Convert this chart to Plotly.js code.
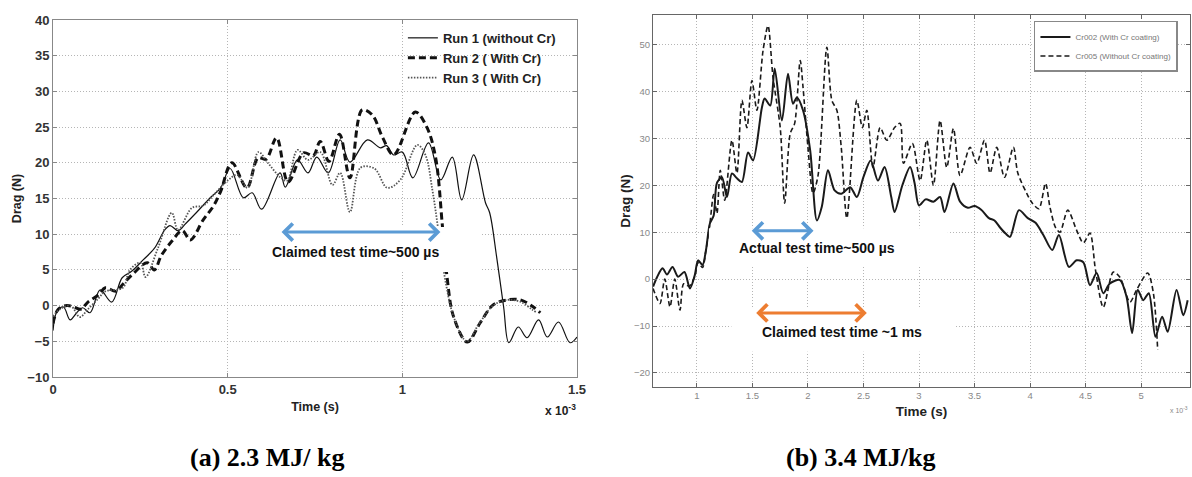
<!DOCTYPE html>
<html>
<head>
<meta charset="utf-8">
<script src="https://cdn.plot.ly/plotly-3.0.1.min.js"></script>
<style>html,body{margin:0;padding:0;background:#fff;}#chart{width:1192px;height:477px;}</style>
</head>
<body>
<div id="chart"></div>
<script>
// ---------- Panel (a) 2.3 MJ/kg : time in units of 1e-3 s ----------
const run1Time = [0, 0.011, 0.03, 0.049, 0.068, 0.085, 0.106, 0.135, 0.168, 0.198,
  0.225, 0.258, 0.29, 0.32, 0.335, 0.358, 0.38, 0.41, 0.45, 0.48,
  0.507, 0.545, 0.57, 0.597, 0.65, 0.665, 0.70, 0.73, 0.755, 0.788,
  0.822, 0.85, 0.90, 0.937, 0.955, 0.975, 1.0, 1.03, 1.075, 1.11,
  1.143, 1.17, 1.204, 1.238, 1.25, 1.27, 1.29, 1.305, 1.332, 1.357,
  1.39, 1.415, 1.447, 1.48, 1.5];
const run1Drag = [-3.5, -0.9, -0.2, -2, -1, -0.3, -1, 2.2, 0.5, 3.9,
  4.8, 6.4, 8, 10.6, 11.2, 10.5, 11.5, 13, 15.1, 16.5,
  19.2, 15.1, 15.8, 13.5, 18.6, 16.6, 20.4, 18.6, 20.8, 18.6,
  23.2, 20.1, 23.2, 22.1, 22.4, 21.1, 21.5, 17.9, 22.8, 17.6,
  20.8, 14.8, 21.1, 14.4, 13, 6.8, -0.2, -5.2, -3, -4.5,
  -2, -4.4, -2.3, -5.2, -4.4];

const run2Time = [0, 0.015, 0.04, 0.06, 0.08, 0.1, 0.13, 0.15, 0.18, 0.2,
  0.23, 0.27, 0.29, 0.31, 0.34, 0.37, 0.393, 0.43, 0.46, 0.48,
  0.512, 0.555, 0.587, 0.61, 0.64, 0.673, 0.717, 0.745, 0.765, 0.79,
  0.82, 0.85, 0.885, 0.914, 0.943, 0.975, 1.037, 1.07, 1.095, 1.115,
  1.128, 1.147, 1.186, 1.223, 1.26, 1.30, 1.338, 1.375, 1.395];
const run2Drag = [-2.5, -0.5, 0, -0.2, -0.5, 0.5, 1.5, 2.5, 2, 3,
  4.5, 6, 5, 7, 9, 10.5, 9.2, 12, 14, 16,
  20, 16.5, 20.7, 20.5, 23.5, 17.3, 21.4, 21, 23, 20.2,
  24, 17.9, 27.4, 26.7, 23.6, 21.1, 27.1, 25, 20.8, 11,
  4, -1.6, -5.1, -2.4, 0.1, 0.8, 0.8, -0.2, -1];

const run3Time = [0, 0.02, 0.05, 0.077, 0.1, 0.13, 0.15, 0.2, 0.22, 0.25,
  0.265, 0.3, 0.34, 0.358, 0.398, 0.43, 0.46, 0.5, 0.527, 0.557,
  0.588, 0.615, 0.65, 0.67, 0.70, 0.73, 0.765, 0.80, 0.822, 0.85,
  0.88, 0.92, 0.957, 0.994, 1.043, 1.066, 1.086, 1.103, 1.125, 1.15,
  1.185, 1.22, 1.26, 1.30, 1.34, 1.37, 1.385];
const run3Drag = [-1.5, -0.5, 0, -1.6, -0.5, 1, 2, 2.5, 5, 6,
  4, 8, 13, 10.6, 13.7, 14, 15.5, 17.5, 18.3, 16.5,
  21.5, 20, 18, 17.5, 21.8, 20.4, 21.5, 16.9, 18.6, 13.1,
  19.3, 19.2, 16.5, 17.6, 22.5, 21.1, 16.2, 10.6, 3, -2,
  -5, -2.5, 0, 0.8, 0.5, -0.5, -1];

// ---------- Panel (b) 3.4 MJ/kg ----------
const cr002Time = [0.605, 0.64, 0.69, 0.73, 0.78, 0.83, 0.887, 0.937, 0.98, 1.01,
  1.05, 1.08, 1.117, 1.15, 1.18, 1.225, 1.27, 1.315, 1.36, 1.405,
  1.46, 1.505, 1.585, 1.61, 1.66, 1.70, 1.765, 1.82, 1.865, 1.90,
  1.955, 2.02, 2.08, 2.125, 2.18, 2.24, 2.30, 2.38, 2.44, 2.50,
  2.565, 2.63, 2.69, 2.75, 2.78, 2.85, 2.92, 2.96, 3.0, 3.06,
  3.13, 3.19, 3.23, 3.31, 3.37, 3.44, 3.50, 3.56, 3.63, 3.68,
  3.73, 3.78, 3.82, 3.90, 3.98, 4.05, 4.12, 4.2, 4.26, 4.35,
  4.42, 4.48, 4.54, 4.60, 4.66, 4.72, 4.81, 4.87, 4.92, 4.97,
  5.02, 5.07, 5.13, 5.19, 5.24, 5.32, 5.38, 5.42];
const cr002Drag = [-1.6, 0.4, 2.3, 1.0, 2.6, 0.5, 1.5, -2.0, 0.8, 4.0,
  3.0, 6.0, 11.9, 13.5, 20.5, 21.7, 17.5, 22.5, 21.5, 20.7,
  27.0, 25.3, 36.6, 38.5, 37.0, 44.9, 33.8, 43.8, 37.4, 38.7,
  36.0, 27.4, 12.5, 15.5, 23.2, 18.9, 18.2, 19.6, 17.5, 21.8,
  25.3, 21.0, 23.9, 17.5, 14.3, 20.0, 23.9, 20.5, 15.7, 17.0,
  16.5, 17.5, 14.3, 20.4, 16.5, 15.2, 15.6, 14.8, 13.0, 12.5,
  11.0, 9.7, 9.0, 14.7, 13.0, 12.0, 9.4, 6.2, 9.4, 2.6,
  4.0, 3.6, -1.3, 1.3, -3.0, -0.9, -0.2, -3.8, -11.5, -2.3,
  -4.5, -3.0, -12.3, -8.0, -11.2, -2.3, -7.7, -4.5];

const cr005Time = [0.605, 0.62, 0.667, 0.71, 0.757, 0.80, 0.847, 0.88, 0.93, 0.98,
  1.01, 1.05, 1.08, 1.117, 1.15, 1.18, 1.21, 1.25, 1.315, 1.36,
  1.405, 1.45, 1.495, 1.54, 1.595, 1.64, 1.685, 1.75, 1.79, 1.84,
  1.88, 1.93, 1.955, 2.0, 2.045, 2.09, 2.17, 2.215, 2.26, 2.30,
  2.35, 2.44, 2.49, 2.53, 2.585, 2.65, 2.71, 2.78, 2.83, 2.86,
  2.94, 3.01, 3.07, 3.13, 3.19, 3.25, 3.31, 3.37, 3.46, 3.52,
  3.59, 3.64, 3.70, 3.77, 3.85, 3.89, 3.97, 4.02, 4.08, 4.14,
  4.18, 4.23, 4.27, 4.34, 4.42, 4.48, 4.54, 4.59, 4.66, 4.75,
  4.81, 4.90, 4.96, 5.06, 5.11, 5.15];
const cr005Drag = [-2.0, -3.0, -5.2, 0.0, -5.9, 0.0, -6.6, -1.0, -1.5, 0.5,
  3.5, 2.5, 6.0, 11.9, 18.0, 14.0, 23.2, 16.8, 29.6, 22.6,
  38.1, 32.3, 42.3, 36.0, 48.7, 54.0, 43.0, 32.3, 16.2, 31.0,
  33.2, 46.6, 41.0, 28.0, 18.3, 22.0, 49.4, 38.1, 36.0, 28.0,
  13.0, 38.1, 32.3, 36.0, 23.8, 32.3, 29.6, 32.3, 33.2, 24.7,
  28.9, 21.0, 29.6, 20.0, 33.8, 23.8, 32.1, 22.1, 28.1, 24.7,
  29.6, 22.6, 28.1, 21.7, 28.1, 22.6, 18.3, 16.2, 15.0, 20.4,
  15.3, 11.0, 10.0, 14.7, 10.4, 7.7, 9.8, 1.9, -6.0, 1.5,
  0.4, -4.9, -2.3, 1.3, -2.8, -15.1];

const leftNames = ['Run 1 (without Cr)', 'Run 2 ( With Cr)', 'Run 3 ( With Cr)'];
const rightNames = ['Cr002 (With Cr coating)', 'Cr005 (Without Cr coating)'];
const captions = ['(a) 2.3 MJ/ kg', '(b) 3.4 MJ/kg'];

const SANS = 'Liberation Sans, Arial, sans-serif';
const SERIF = 'Liberation Serif, Times New Roman, serif';

const traces = [
  {x: run1Time, y: run1Drag, name: leftNames[0], mode: 'lines', xaxis: 'x', yaxis: 'y', legend: 'legend',
   line: {color: '#111', width: 1.2, shape: 'spline', smoothing: 1}},
  {x: run2Time, y: run2Drag, name: leftNames[1], mode: 'lines', xaxis: 'x', yaxis: 'y', legend: 'legend',
   line: {color: '#111', width: 3, dash: '7px,4px', shape: 'spline', smoothing: 1}},
  {x: run3Time, y: run3Drag, name: leftNames[2], mode: 'lines', xaxis: 'x', yaxis: 'y', legend: 'legend',
   line: {color: '#555', width: 1.8, dash: '1.5px,1.5px', shape: 'spline', smoothing: 1}},
  {x: cr002Time, y: cr002Drag, name: rightNames[0], mode: 'lines', xaxis: 'x2', yaxis: 'y2', legend: 'legend2',
   line: {color: '#1a1a1a', width: 2, shape: 'spline', smoothing: 0.8}},
  {x: cr005Time, y: cr005Drag, name: rightNames[1], mode: 'lines', xaxis: 'x2', yaxis: 'y2', legend: 'legend2',
   line: {color: '#1a1a1a', width: 1.6, dash: '5px,3px', shape: 'spline', smoothing: 0.8}}
];

const gridDot = {showgrid: true, gridcolor: '#b5b5b5', griddash: '1px,2px', gridwidth: 1};

const layout = {
  width: 1192, height: 477,
  margin: {l: 0, r: 0, t: 0, b: 0},
  paper_bgcolor: '#ffffff', plot_bgcolor: '#ffffff',
  showlegend: true,
  xaxis: Object.assign({
    domain: [0.04446, 0.48406], range: [0, 1.5], dtick: 0.5, tick0: 0,
    showline: true, linecolor: '#888', linewidth: 1, mirror: 'ticks',
    ticks: 'inside', ticklen: 4, tickcolor: '#888', zeroline: false,
    tickfont: {family: SANS, size: 13, color: '#333', weight: 'bold'},
    title: {text: 'Time (s)', font: {family: SANS, size: 12.5, color: '#222', weight: 'bold'}, standoff: 6}
  }, gridDot),
  yaxis: Object.assign({
    domain: [0.20964, 0.95807], range: [-10, 40], dtick: 5, tick0: 0,
    showline: true, linecolor: '#888', linewidth: 1, mirror: 'ticks',
    ticks: 'inside', ticklen: 4, tickcolor: '#888', zeroline: false,
    tickfont: {family: SANS, size: 13, color: '#333', weight: 'bold'},
    title: {text: 'Drag (N)', font: {family: SANS, size: 12.5, color: '#222', weight: 'bold'}, standoff: 2}
  }, gridDot),
  xaxis2: Object.assign({
    domain: [0.54782, 0.99832], range: [0.604, 5.441], dtick: 0.5, tick0: 0, anchor: 'y2',
    showline: true, linecolor: '#666', linewidth: 1, mirror: 'ticks',
    ticks: 'inside', ticklen: 4, tickcolor: '#666', zeroline: false,
    tickfont: {family: SANS, size: 9.5, color: '#888'},
    title: {text: 'Time (s)', font: {family: SANS, size: 13.5, color: '#222', weight: 'bold'}, standoff: 6}
  }, gridDot),
  yaxis2: Object.assign({
    domain: [0.18868, 0.96855], range: [-23.0, 56.3], dtick: 10, tick0: 0, anchor: 'x2',
    showline: true, linecolor: '#666', linewidth: 1, mirror: 'ticks',
    ticks: 'inside', ticklen: 4, tickcolor: '#666', zeroline: false,
    tickfont: {family: SANS, size: 9.5, color: '#888'},
    title: {text: 'Drag (N)', font: {family: SANS, size: 13.5, color: '#222', weight: 'bold'}, standoff: 0}
  }, gridDot),
  legend: {
    x: 0.338, y: 0.952, xanchor: 'left', yanchor: 'top',
    bgcolor: 'rgba(255,255,255,0)', borderwidth: 0,
    font: {family: SANS, size: 13, color: '#222', weight: 'bold'},
    itemwidth: 30, tracegroupgap: 0
  },
  legend2: {
    x: 0.8674, y: 0.9560, xanchor: 'left', yanchor: 'top',
    bgcolor: '#ffffff', bordercolor: '#888', borderwidth: 1.5,
    font: {family: SANS, size: 8, color: '#777'},
    itemwidth: 30, tracegroupgap: 0
  },
  shapes: [
    // white label patches pasted over the plots
    {type: 'rect', xref: 'x', yref: 'y', x0: 0.536, x1: 1.223, y0: 4.7, y1: 11.0,
     fillcolor: '#ffffff', line: {width: 0}, layer: 'above'},
    {type: 'rect', xref: 'x2', yref: 'y2', x0: 1.108, x1: 3.26, y0: 3.0, y1: 10.85,
     fillcolor: '#ffffff', line: {width: 0}, layer: 'above'},
    {type: 'rect', xref: 'x2', yref: 'y2', x0: 1.31, x1: 3.33, y0: -15.5, y1: -6.2,
     fillcolor: '#ffffff', line: {width: 0}, layer: 'above'}
  ],
  annotations: [
    // arrows
    {xref: 'x', yref: 'y', axref: 'x', ayref: 'y', x: 1.109, y: 10.3, ax: 0.650, ay: 10.3, text: '',
     showarrow: true, arrowside: 'end+start', arrowhead: 4, startarrowhead: 4, arrowsize: 1.1, startarrowsize: 1.1,
     arrowwidth: 3, arrowcolor: '#5b9bd5', standoff: 0, startstandoff: 0},
    {xref: 'x2', yref: 'y2', axref: 'x2', ayref: 'y2', x: 2.05, y: 10.3, ax: 1.48, ay: 10.3, text: '',
     showarrow: true, arrowside: 'end+start', arrowhead: 4, startarrowhead: 4, arrowsize: 1.1, startarrowsize: 1.1,
     arrowwidth: 3, arrowcolor: '#5b9bd5', standoff: 0, startstandoff: 0},
    {xref: 'x2', yref: 'y2', axref: 'x2', ayref: 'y2', x: 2.53, y: -7.2, ax: 1.52, ay: -7.2, text: '',
     showarrow: true, arrowside: 'end+start', arrowhead: 4, startarrowhead: 4, arrowsize: 1.1, startarrowsize: 1.1,
     arrowwidth: 3, arrowcolor: '#ed7d31', standoff: 0, startstandoff: 0},
    // labels
    {xref: 'x', yref: 'y', x: 0.865, y: 7.5, xanchor: 'center', yanchor: 'middle',
     text: 'Claimed test time~500 µs', showarrow: false,
     font: {family: SANS, size: 14, color: '#111', weight: 'bold'}},
    {xref: 'x2', yref: 'y2', x: 2.08, y: 6.6, xanchor: 'center', yanchor: 'middle',
     text: 'Actual test time~500 µs', showarrow: false,
     font: {family: SANS, size: 14, color: '#111', weight: 'bold'}},
    {xref: 'x2', yref: 'y2', x: 2.306, y: -11.3, xanchor: 'center', yanchor: 'middle',
     text: 'Claimed test time ~1 ms', showarrow: false,
     font: {family: SANS, size: 14, color: '#111', weight: 'bold'}},
    // exponent notes
    {xref: 'paper', yref: 'paper', x: 0.4849, y: 0.1405, xanchor: 'right', yanchor: 'middle',
     text: 'x 10<sup>-3</sup>', showarrow: false,
     font: {family: SANS, size: 12, color: '#222', weight: 'bold'}},
    {xref: 'paper', yref: 'paper', x: 0.9983, y: 0.1405, xanchor: 'right', yanchor: 'middle',
     text: 'x 10<sup>-3</sup>', showarrow: false,
     font: {family: SANS, size: 7, color: '#888'}},
    // captions
    {xref: 'paper', yref: 'paper', x: 0.224, y: 0.040, xanchor: 'center', yanchor: 'middle',
     text: captions[0], showarrow: false,
     font: {family: SERIF, size: 26, color: '#000', weight: 'bold'}},
    {xref: 'paper', yref: 'paper', x: 0.7223, y: 0.040, xanchor: 'center', yanchor: 'middle',
     text: captions[1], showarrow: false,
     font: {family: SERIF, size: 26, color: '#000', weight: 'bold'}}
  ]
};

Plotly.newPlot('chart', traces, layout, {staticPlot: true, displayModeBar: false});
</script>
</body>
</html>
